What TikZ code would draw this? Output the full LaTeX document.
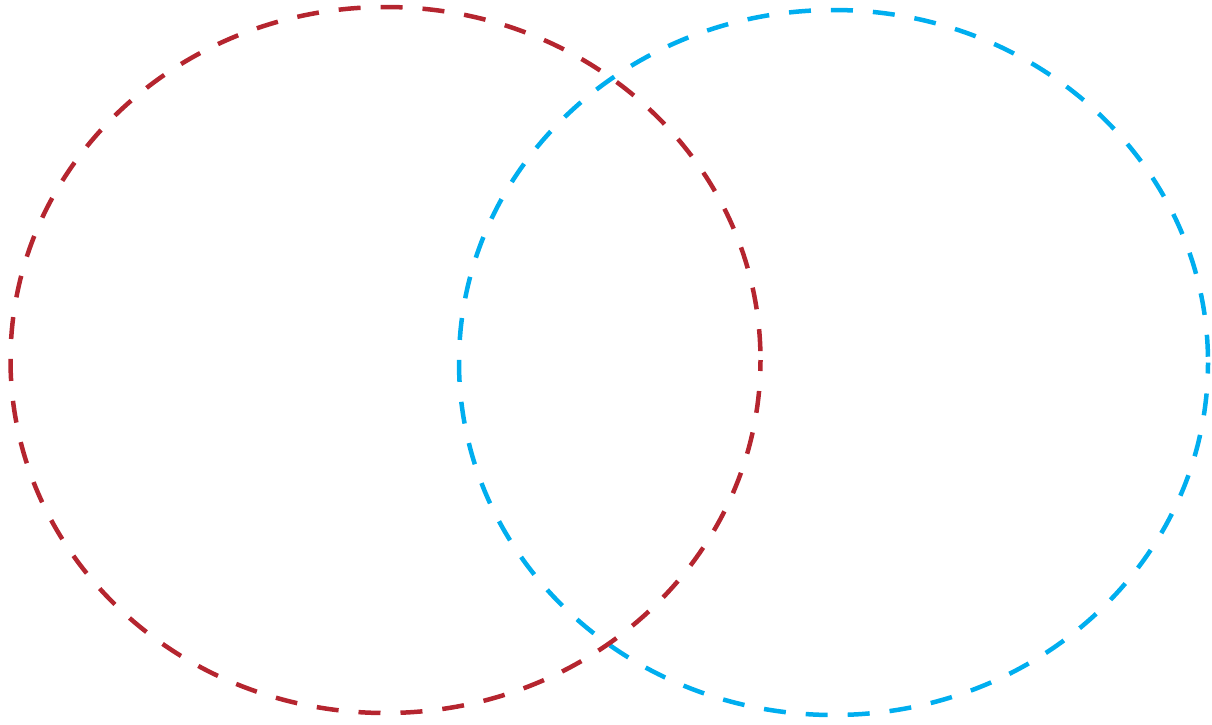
\documentclass[tikz,border=0pt]{standalone}
\definecolor{vred}{RGB}{181,37,47}
\definecolor{vblue}{RGB}{0,174,239}
\begin{document}
\begin{tikzpicture}[x=1pt,y=-1pt,
  ring/.style={line width=4.5pt, dash pattern=on 22pt off 20pt, dash phase=11pt}]
\useasboundingbox (0,0) rectangle (1212,724);
\coordinate (cb) at (833.5,362.5);
\coordinate (cr) at (385.5,360);
\draw[ring, vblue] (cb) ellipse [x radius=374.5, y radius=352.5];
\draw[ring, vred] (cr) ellipse [x radius=375, y radius=353];
\end{tikzpicture}
\end{document}
